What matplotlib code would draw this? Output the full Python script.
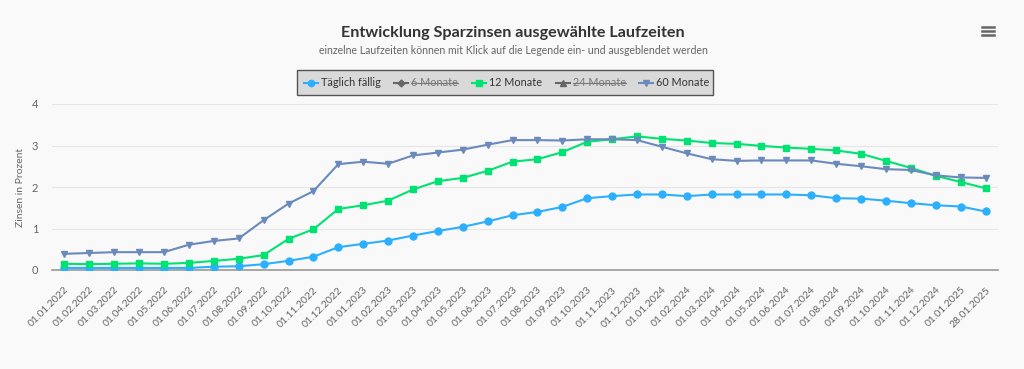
import matplotlib.pyplot as plt
from matplotlib.lines import Line2D
from matplotlib.patches import Rectangle

plt.rcParams['font.family'] = ['Lato', 'DejaVu Sans']

# ---- data -------------------------------------------------------------
dates = ['01.01.2022', '01.02.2022', '01.03.2022', '01.04.2022', '01.05.2022',
         '01.06.2022', '01.07.2022', '01.08.2022', '01.09.2022', '01.10.2022',
         '01.11.2022', '01.12.2022', '01.01.2023', '01.02.2023', '01.03.2023',
         '01.04.2023', '01.05.2023', '01.06.2023', '01.07.2023', '01.08.2023',
         '01.09.2023', '01.10.2023', '01.11.2023', '01.12.2023', '01.01.2024',
         '01.02.2024', '01.03.2024', '01.04.2024', '01.05.2024', '01.06.2024',
         '01.07.2024', '01.08.2024', '01.09.2024', '01.10.2024', '01.11.2024',
         '01.12.2024', '01.01.2025', '28.01.2025']

taeglich = [0.05, 0.05, 0.05, 0.05, 0.05, 0.05, 0.08, 0.09, 0.14, 0.22, 0.32, 0.55,
            0.63, 0.71, 0.83, 0.94, 1.04, 1.17, 1.32, 1.40, 1.52, 1.73, 1.78, 1.82,
            1.82, 1.78, 1.82, 1.82, 1.82, 1.82, 1.80, 1.73, 1.72, 1.67, 1.61, 1.56,
            1.53, 1.41]

monate12 = [0.15, 0.14, 0.15, 0.16, 0.15, 0.17, 0.22, 0.27, 0.36, 0.75, 0.98, 1.47,
            1.56, 1.67, 1.94, 2.14, 2.22, 2.39, 2.61, 2.67, 2.84, 3.09, 3.15, 3.22,
            3.16, 3.12, 3.06, 3.04, 2.99, 2.95, 2.92, 2.88, 2.80, 2.63, 2.46, 2.27,
            2.12, 1.97]

monate60 = [0.39, 0.41, 0.43, 0.43, 0.43, 0.61, 0.70, 0.76, 1.20, 1.60, 1.90, 2.55,
            2.61, 2.56, 2.76, 2.83, 2.90, 3.02, 3.13, 3.13, 3.12, 3.15, 3.15, 3.13,
            2.97, 2.81, 2.67, 2.63, 2.64, 2.64, 2.64, 2.56, 2.50, 2.43, 2.41, 2.28,
            2.23, 2.22]

yticks = [0, 1, 2, 3, 4]

# ---- figure -----------------------------------------------------------
W, H = 1024, 369
bg = '#f9f9f9'
fig = plt.figure(figsize=(W / 100, H / 100), dpi=100, facecolor=bg)
ax = fig.add_axes([52 / W, 1 - 270 / H, (998 - 52) / W, (270 - 104) / H], facecolor=bg)

x = list(range(len(dates)))
ax.plot(x, taeglich, color='#2caffe', lw=1.5, marker='o', ms=5, zorder=3)
ax.plot(x, monate12, color='#00e272', lw=1.5, marker='s', ms=5, zorder=3)
ax.plot(x, monate60, color='#6b8abc', lw=1.5, marker='v', ms=5, zorder=3)

ax.set_xlim(-0.5, len(dates) - 0.5)
ax.set_ylim(0, 4)
ax.set_yticks(yticks)
ax.set_yticklabels([str(v) for v in yticks], color='#666666', fontsize=8)
ax.grid(axis='y', color='#e6e6e6', lw=0.8)
ax.set_axisbelow(True)
for s in ['top', 'right', 'left']:
    ax.spines[s].set_visible(False)
ax.spines['bottom'].set_color('#999999')
ax.spines['bottom'].set_linewidth(1.2)
ax.tick_params(axis='y', length=0, pad=10)
ax.tick_params(axis='x', length=0, pad=11)
ax.set_xticks(x)
ax.set_xticklabels(dates, rotation=45, ha='right', va='top', rotation_mode='anchor',
                   fontsize=7.5, color='#666666')
ax.set_ylabel('Zinsen in Prozent', color='#666666', fontsize=7.5, labelpad=5)

# ---- titles -----------------------------------------------------------
fig.text(513 / W, 1 - 33 / H, 'Entwicklung Sparzinsen ausgewählte Laufzeiten',
         ha='center', va='center', fontsize=11.6, fontweight='bold', color='#333333')
fig.text(513 / W, 1 - 51 / H,
         'einzelne Laufzeiten können mit Klick auf die Legende ein- und ausgeblendet werden',
         ha='center', va='center', fontsize=7.6, color='#666666')

# hamburger menu icon
for yy in (27, 31, 35):
    fig.add_artist(Line2D([982 / W, 994 / W], [1 - yy / H, 1 - yy / H],
                          color='#666666', lw=1.8, transform=fig.transFigure))

# ---- legend (hidden series struck through) ----------------------------
fig.add_artist(Rectangle((297 / W, 1 - 95 / H), (713 - 297) / W, 25 / H,
                         transform=fig.transFigure, facecolor='#d9d9d9',
                         edgecolor='#555555', lw=1.0))
legend_items = [
    ('Täglich fällig', '#2caffe', 'o', 311, False),
    ('6 Monate', '#666666', 'D', 401, True),
    ('12 Monate', '#00e272', 's', 479, False),
    ('24 Monate', '#666666', '^', 563, True),
    ('60 Monate', '#6b8abc', 'v', 646, False),
]
ly = 1 - 82.5 / H
renderer = fig.canvas.get_renderer()
for label, col, mk, cx, hidden in legend_items:
    fig.add_artist(Line2D([(cx - 7) / W, (cx + 7) / W], [ly, ly], color=col, lw=1.5,
                          transform=fig.transFigure))
    fig.add_artist(Line2D([cx / W], [ly], color=col, marker=mk,
                          ms=3.5 if mk == 'D' else 4.5, transform=fig.transFigure))
    t = fig.text((cx + 10) / W, ly, label, ha='left', va='center', fontsize=7.8,
                 color='#777777' if hidden else '#333333')
    if hidden:
        bb = t.get_window_extent(renderer)
        fig.add_artist(Line2D([bb.x0 / W, bb.x1 / W], [ly, ly], color='#777777', lw=0.8,
                              transform=fig.transFigure))

fig.savefig('out.png', dpi=100, facecolor=bg)
